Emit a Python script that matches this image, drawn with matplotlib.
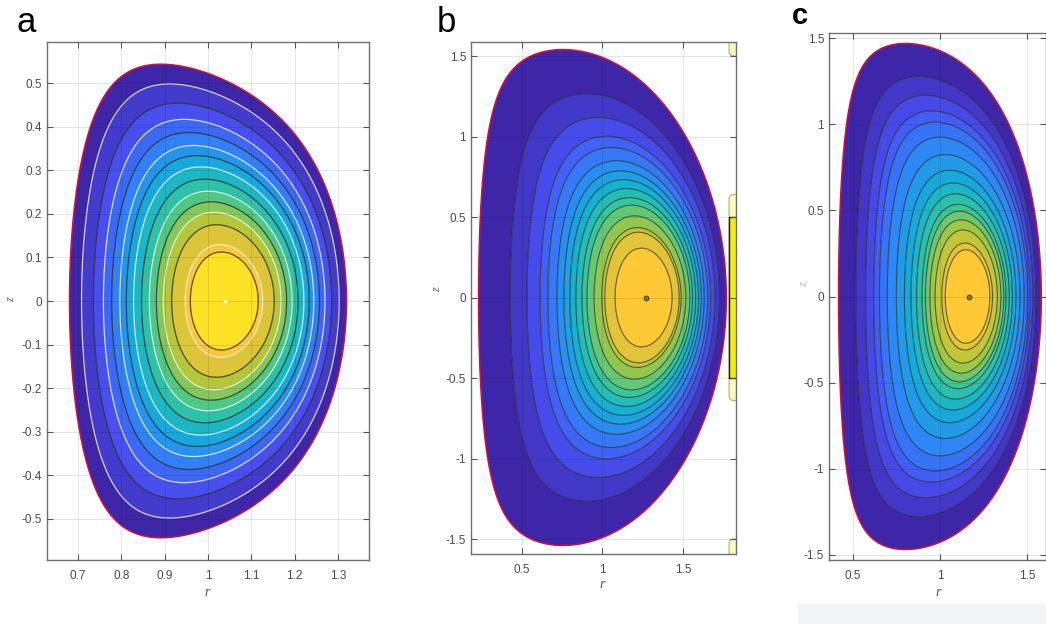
import numpy as np
import matplotlib
matplotlib.use('Agg')
import matplotlib.pyplot as plt
from matplotlib.colors import LinearSegmentedColormap
from matplotlib.patches import FancyBboxPatch, Rectangle

plt.rcParams['font.family'] = ['Liberation Sans', 'DejaVu Sans']
plt.rcParams['axes.unicode_minus'] = False

W, H = 1046, 624

# ---- parula-like colormap anchors (MATLAB parula(8)) ----
parula_anchors = [
    (0.2422, 0.1504, 0.6603), (0.2810, 0.3228, 0.9579),
    (0.1786, 0.5289, 0.9682), (0.0689, 0.6948, 0.8394),
    (0.2161, 0.7843, 0.5923), (0.6720, 0.7793, 0.2227),
    (0.9970, 0.7659, 0.2199), (0.9769, 0.9839, 0.0805),
]
parula = LinearSegmentedColormap.from_list('parula', parula_anchors)

# ---- panel data ----
panel_labels = ['a', 'b', 'c']
major_radius = [1.0, 1.0, 1.0]
minor_radius = [0.32, 0.77, 0.583]
axis_shift = [0.04, 0.27, 0.167]
kappa_core = [1.35, 1.65, 2.0]
kappa_edge = [1.70, 2.00, 2.52]
delta_edge = [0.34, 0.32, 0.34]
square_out = [0.12, 0.06, 0.13]
square_in = [0.0, 0.17, 0.17]

levels_a = [0.245, 0.28, 0.37, 0.425, 0.47, 0.515, 0.565, 0.615, 0.66,
            0.70, 0.75, 0.80, 0.86, 0.93]
levels_b = [0.23, 0.30, 0.32, 0.37, 0.415, 0.446, 0.483, 0.519, 0.554,
            0.594, 0.645, 0.688, 0.758, 0.845]
levels_c = [0.22, 0.25, 0.307, 0.35, 0.386, 0.414, 0.457, 0.50, 0.55,
            0.61, 0.675, 0.73, 0.77, 0.825, 0.89]
panel_levels = [levels_a, levels_b, levels_c]
core_color_pos = [0.93, 0.87, 0.87]

xlims = [(0.628, 1.372), (0.183, 1.83), (0.362, 1.61)]
ylims = [(-0.595, 0.595), (-1.593, 1.587), (-1.53, 1.53)]
xticks = [[0.7, 0.8, 0.9, 1.0, 1.1, 1.2, 1.3], [0.5, 1.0, 1.5], [0.5, 1.0, 1.5]]
xticklabels = [['0.7', '0.8', '0.9', '1', '1.1', '1.2', '1.3'],
               ['0.5', '1', '1.5'], ['0.5', '1', '1.5']]
yticks = [[-0.5, -0.4, -0.3, -0.2, -0.1, 0.0, 0.1, 0.2, 0.3, 0.4, 0.5],
          [-1.5, -1.0, -0.5, 0.0, 0.5, 1.0, 1.5],
          [-1.5, -1.0, -0.5, 0.0, 0.5, 1.0, 1.5]]
yticklabels = [['-0.5', '-0.4', '-0.3', '-0.2', '-0.1', '0', '0.1', '0.2', '0.3', '0.4', '0.5'],
               ['-1.5', '-1', '-0.5', '0', '0.5', '1', '1.5'],
               ['-1.5', '-1', '-0.5', '0', '0.5', '1', '1.5']]

# axes boxes in pixels: left, top, right, bottom
boxes = [(47, 42, 369, 560), (471, 42, 736, 554), (829, 33, 1046, 560)]

fig = plt.figure(figsize=(W / 100, H / 100), dpi=100)
fig.patch.set_facecolor('white')

# light strip at bottom right
fig.patches.append(Rectangle((798 / W, 0), (W - 798) / W, 21 / H,
                             transform=fig.transFigure, facecolor='#f3f4f6',
                             edgecolor='none', zorder=0))

rho = np.linspace(0, 1, 220)
theta = np.linspace(0, 2 * np.pi, 481)
RHO, TH = np.meshgrid(rho, theta, indexing='ij')

for i in range(3):
    l, t, r, b = boxes[i]
    ax = fig.add_axes([l / W, 1 - b / H, (r - l) / W, (b - t) / H])
    a = minor_radius[i]
    kap = kappa_core[i] + (kappa_edge[i] - kappa_core[i]) * RHO
    dlt = delta_edge[i] * RHO
    wout = (1 + np.cos(TH)) / 2
    zeta = (square_out[i] * wout + square_in[i] * (1 - wout)) * RHO ** 2
    Rg = (major_radius[i] + axis_shift[i] * (1 - RHO ** 2)
          + a * RHO * np.cos(TH + np.arcsin(dlt) * np.sin(TH)))
    Zg = kap * a * RHO * np.sin(TH + zeta * np.sin(2 * TH))

    lv = panel_levels[i]
    nb = len(lv) + 1
    band_cols = [parula(core_color_pos[i] * (1 - j / (nb - 1))) for j in range(nb)]
    ax.contourf(Rg, Zg, RHO, levels=[0.0] + lv + [1.0001], colors=band_cols,
                antialiased=True, zorder=1)
    if i == 0:
        lcols = [('#f2f2f2' if (len(lv) - 1 - k) % 2 == 0 else '#2a2a2a')
                 for k in range(len(lv))]
        ax.contour(Rg, Zg, RHO, levels=lv, colors=lcols, linewidths=0.9,
                   alpha=0.8, zorder=2)
        ax.plot([major_radius[i] + axis_shift[i]], [0], 'o', ms=1.5,
                color='white', zorder=3)
    else:
        ax.contour(Rg, Zg, RHO, levels=lv, colors='#1e1e1e', linewidths=0.8,
                   alpha=0.65, zorder=2)
        ax.plot([major_radius[i] + axis_shift[i]], [0], 'o', ms=3.5,
                mfc='#8a7a30', mec='#333333', mew=0.6, zorder=3)
    ax.plot(Rg[-1], Zg[-1], color='#d0103a', lw=1.1, zorder=3)

    if i == 1:
        pale = FancyBboxPatch((1.787, -0.64), 0.2, 1.28,
                              boxstyle='round,pad=0,rounding_size=0.03',
                              facecolor='#fafab8', edgecolor='#b8b070', lw=0.8, zorder=2)
        ax.add_patch(pale)
        ax.add_patch(Rectangle((1.787, -0.5), 0.2, 1.0, facecolor='#f2ee10',
                               edgecolor='#111111', lw=1.0, zorder=2))
        for z0 in (1.50, -1.63):
            ax.add_patch(FancyBboxPatch((1.787, z0), 0.2, 0.13,
                                        boxstyle='round,pad=0,rounding_size=0.03',
                                        facecolor='#fafab8', edgecolor='#b8b070',
                                        lw=0.8, zorder=2))

    ax.set_xlim(*xlims[i])
    ax.set_ylim(*ylims[i])
    ax.set_xticks(xticks[i])
    ax.set_xticklabels(xticklabels[i])
    ax.set_yticks(yticks[i])
    ax.set_yticklabels(yticklabels[i])
    ax.set_axisbelow(False)
    ax.grid(True, color='#000000', alpha=0.12, lw=0.6)
    ax.tick_params(direction='in', top=True, right=True, length=4, width=0.8,
                   color='#555555', labelcolor='#4a4a4a', labelsize=8.5)
    ax.tick_params(axis='x', pad=7)
    ax.tick_params(axis='y', pad=3.5)
    for s in ax.spines.values():
        s.set_color('#707070')
        s.set_linewidth(1.0)

# panel letters
fig.text(16 / W, 1 - 32 / H, 'a', fontsize=25, color='black', va='baseline')
fig.text(437 / W, 1 - 32 / H, 'b', fontsize=25, color='black', va='baseline')
fig.text(792 / W, 1 - 24 / H, 'c', fontsize=21, color='black', va='baseline',
         fontweight='bold')

# axis labels
for (x, y) in [(207, 592), (602, 585), (938, 593)]:
    fig.text(x / W, 1 - y / H, 'r', fontsize=10, style='italic',
             family='Liberation Serif', color='#555555', ha='center', va='center')
for (x, y, c) in [(11, 300, '#666666'), (437, 290, '#666666'), (804, 285, '#bbbbbb')]:
    fig.text(x / W, 1 - y / H, 'z', fontsize=9, style='italic', rotation=90,
             family='Liberation Serif', color=c, ha='center', va='center')

fig.savefig('out.png', dpi=100)
